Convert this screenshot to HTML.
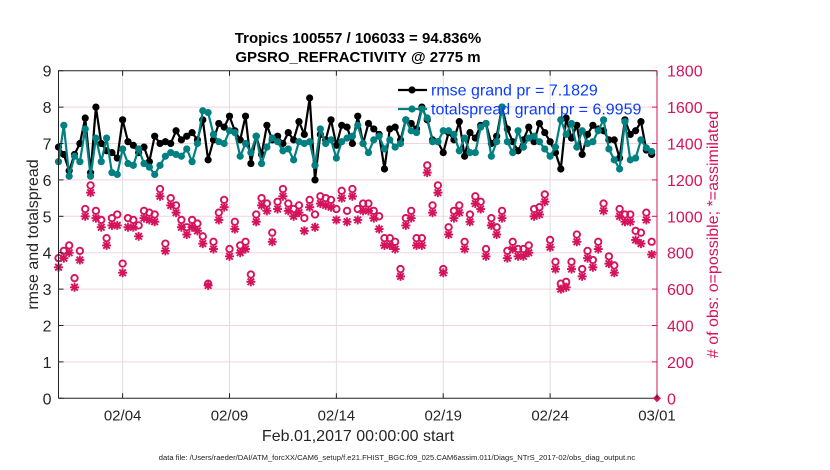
<!DOCTYPE html>
<html><head><meta charset="utf-8"><style>
body{margin:0;background:#fff}
svg{display:block;font-family:"Liberation Sans",Arial,sans-serif}
</style></head><body>
<svg id="c" width="830" height="470" viewBox="0 0 830 470" xmlns="http://www.w3.org/2000/svg">
<rect width="830" height="470" fill="#fff"/>
<g id="grid"></g>
<g id="series"></g>
<g id="axes"></g>
</svg>
<script>
const xTickLabels=["02/04","02/09","02/14","02/19","02/24","03/01"];
const xTickDays=[3,8,13,18,23,28];
const yTicksLeft=[0,1,2,3,4,5,6,7,8,9];
const yTicksRight=[0,200,400,600,800,1000,1200,1400,1600,1800];
const rmse=[6.9,6.7,6.25,6.7,7.0,7.7,6.2,8.0,7.0,6.8,6.75,6.6,7.65,7.05,6.95,6.75,6.9,6.5,7.2,7.0,7.05,7.0,7.35,7.1,7.2,7.3,7.1,7.65,6.55,7.1,7.55,7.45,7.75,7.35,7.1,7.75,6.45,
7.2,6.7,7.5,7.1,7.2,7.0,7.3,7.1,7.6,7.25,8.25,6.0,7.25,7.1,7.65,6.95,7.5,7.45,7.0,7.75,7.0,7.55,7.4,7.25,6.3,7.4,7.45,7.1,7.65,7.55,7.4,8.0,7.65,7.1,7.05,
6.75,7.3,7.1,7.6,6.65,7.3,7.15,7.5,7.55,7.0,7.2,8.0,7.4,7.05,6.8,7.1,7.45,7.05,7.55,7.3,7.05,6.75,6.3,7.7,7.15,7.5,6.7,7.25,7.5,7.4,7.35,7.1,7.1,6.6,7.65,7.25,7.35,
7.6,6.82,6.7];
const spread=[6.5,7.5,6.1,6.65,6.5,7.4,6.1,7.15,6.5,7.15,6.2,6.15,6.85,6.45,6.4,6.85,6.45,6.35,6.15,6.4,6.65,6.75,6.7,6.65,6.85,6.5,7.0,7.9,7.85,7.25,7.05,7.0,7.35,7.3,6.65,7.0,6.75,
7.2,6.45,6.9,7.15,7.05,6.8,6.85,6.55,7.05,7.0,7.05,6.4,7.4,7.0,7.1,6.6,7.05,7.15,7.2,7.5,7.0,6.75,7.1,7.2,6.85,7.1,6.9,7.0,7.65,7.35,7.3,7.95,7.7,7.05,7.05,
7.35,7.35,7.25,6.8,7.15,6.75,6.75,7.45,7.55,6.65,7.05,8.0,7.05,6.75,7.35,6.9,7.15,7.2,7.05,6.85,6.65,6.9,7.65,7.25,7.55,6.9,7.35,7.0,7.05,7.35,7.65,6.85,6.55,6.3,7.6,6.55,6.6,
7.1,6.88,6.78];
const possible=[770,810,840,660,810,1040,1170,1030,980,880,990,1010,740,990,980,950,1030,1020,1010,1150,850,1100,1060,980,940,980,960,890,630,860,1020,1090,820,970,840,860,680,
1010,1100,1070,910,1080,1150,1070,1040,1060,990,1090,1010,1110,1100,1090,1040,1140,1030,1150,1040,1070,1070,1030,1000,880,880,860,710,990,1030,880,880,1280,1060,1170,
710,940,1030,1060,860,1010,1110,1080,820,990,940,1030,810,860,820,820,840,1040,1050,1120,870,750,630,640,750,900,710,810,760,860,1070,780,730,1040,1010,1010,920,
910,1020,860];
const assimilated=[720,770,800,610,760,1000,1130,990,940,840,950,950,690,940,940,890,990,980,970,1110,810,1060,1020,940,900,940,920,850,620,820,980,1050,780,930,800,820,640,
970,1060,1030,860,1040,1110,1030,1000,1020,920,1050,940,1070,1060,1050,980,1100,970,1110,980,1030,1030,990,930,840,840,820,670,950,990,840,840,1240,1020,1130,
690,900,990,1020,820,970,1070,1040,780,950,900,990,770,820,780,780,800,1000,1010,1080,830,710,600,610,710,860,670,770,720,820,1030,740,690,1000,970,970,870,
850,980,790];
const stepDays=0.25;

const L=58.5,R=657,T=70.7,B=398.3;
const xS=d=>L+(R-L)*d/28;
const yL=v=>B-(B-T)*v/9;
const yR=v=>B-(B-T)*v/1800;
const NS="http://www.w3.org/2000/svg";
const RED="#d5135c";
function mk(tag,attrs,parent,text){const e=document.createElementNS(NS,tag);for(const k in attrs)e.setAttribute(k,attrs[k]);if(text!==undefined)e.textContent=text;parent.appendChild(e);return e;}
const grid=document.getElementById('grid'),ser=document.getElementById('series'),ax=document.getElementById('axes');

yTicksLeft.forEach(v=>{if(v>0&&v<9){const g=mk('line',{x1:L,x2:R,y1:yL(v),y2:yL(v),stroke:'#f3d3de','stroke-width':1},grid);

}});
xTickDays.forEach(d=>{const g=mk('line',{x1:xS(d),x2:xS(d),y1:T,y2:B,stroke:'#dedede','stroke-width':1},grid);

});

function lineSeries(vals,color,name){
  const g=mk('g',{},ser);
  
  
  const pts=vals.map((v,i)=>xS(i*stepDays).toFixed(1)+','+yL(v).toFixed(1)).join(' ');
  mk('polyline',{points:pts,fill:'none',stroke:color,'stroke-width':2.2,'stroke-linejoin':'round'},g);
  vals.forEach((v,i)=>{const c=mk('circle',{cx:xS(i*stepDays),cy:yL(v),r:3.6,fill:color},g);
    
    });
}
const og=mk('g',{},ser);


assimilated.forEach((v,i)=>{const x=xS(i*stepDays),y=yR(v);const s=mk('g',{stroke:RED,'stroke-width':1.9},og);
  
  
  mk('line',{x1:x-4.5,x2:x+4.5,y1:y,y2:y},s);mk('line',{x1:x,x2:x,y1:y-4.5,y2:y+4.5},s);
  mk('line',{x1:x-3.3,x2:x+3.3,y1:y-3.3,y2:y+3.3},s);mk('line',{x1:x-3.3,x2:x+3.3,y1:y+3.3,y2:y-3.3},s);});
possible.forEach((v,i)=>{const c=mk('circle',{cx:xS(i*stepDays),cy:yR(v),r:3.2,fill:'none',stroke:RED,'stroke-width':1.9},og);
  
  });
lineSeries(rmse,'#000','rmse-series');
lineSeries(spread,'#008080','totalspread-series');
const dm=mk('path',{d:`M${R-4},${B} L${R},${B-4} L${R+4},${B} L${R},${B+4}Z`,fill:RED},ser);



const fr=mk('path',{d:`M${L},${B} L${L},${T} L${R},${T}`,fill:'none',stroke:'#222','stroke-width':1},ax);


const xa=mk('line',{x1:L,x2:R,y1:B,y2:B,stroke:'#222','stroke-width':1},ax);


const ra=mk('line',{x1:R,x2:R,y1:T,y2:B,stroke:RED,'stroke-width':1},ax);


xTickDays.forEach((d,i)=>{mk('line',{x1:xS(d),x2:xS(d),y1:B,y2:B-5,stroke:'#222'},ax);mk('line',{x1:xS(d),x2:xS(d),y1:T,y2:T+5,stroke:'#222'},ax);
  const t=mk('text',{x:xS(d),y:B+22,'text-anchor':'middle','font-size':15,fill:'#262626'},ax,xTickLabels[i]);
  
  });
yTicksLeft.forEach(v=>{mk('line',{x1:L,x2:L+5,y1:yL(v),y2:yL(v),stroke:'#222'},ax);
  const t=mk('text',{x:L-7,y:yL(v)+6,'text-anchor':'end','font-size':16,fill:'#262626'},ax,String(v));
  
  });
yTicksRight.forEach(v=>{mk('line',{x1:R,x2:R-5,y1:yR(v),y2:yR(v),stroke:RED},ax);
  const t=mk('text',{x:R+10,y:yR(v)+6,'font-size':16,fill:RED},ax,String(v));
  
  });

function txt(name,attrs,s){const t=mk('text',attrs,ax,s);return t;}
txt('title-line-1',{x:358,y:43,'text-anchor':'middle','font-size':15,'font-weight':'bold',fill:'#000'},'Tropics 100557 / 106033 = 94.836%');
txt('title-line-2',{x:358,y:62,'text-anchor':'middle','font-size':15,'font-weight':'bold',fill:'#000'},'GPSRO_REFRACTIVITY @ 2775 m');
txt('x-axis-title',{x:358,y:441,'text-anchor':'middle','font-size':16,fill:'#262626'},'Feb.01,2017 00:00:00 start');
txt('left-y-axis-title',{x:0,y:0,'text-anchor':'middle','font-size':16,fill:'#262626',transform:`translate(38,${(T+B)/2}) rotate(-90)`},'rmse and totalspread');
txt('right-y-axis-title',{x:0,y:0,'text-anchor':'middle','font-size':16,fill:RED,transform:`translate(718,${(T+B)/2}) rotate(-90)`},'# of obs: o=possible; *=assimilated');
txt('data-file-note',{x:397,y:460,'text-anchor':'middle','font-size':7.6,fill:'#222'},'data file: /Users/raeder/DAI/ATM_forcXX/CAM6_setup/f.e21.FHIST_BGC.f09_025.CAM6assim.011/Diags_NTrS_2017-02/obs_diag_output.nc');

const lg=mk('g',{},ax);


[['#000','rmse grand pr = 7.1829',90],['#008080','totalspread grand pr = 6.9959',109]].forEach(([c,s,y])=>{
  const e=mk('g',{},lg);
  
  
  mk('line',{x1:398,x2:427,y1:y,y2:y,stroke:c,'stroke-width':2.2},e);
  mk('circle',{cx:412,cy:y,r:3.6,fill:c},e);
  mk('text',{x:431,y:y+5.5,'font-size':16,fill:'#0a3cff'},e,s);});
</script>
</body></html>
